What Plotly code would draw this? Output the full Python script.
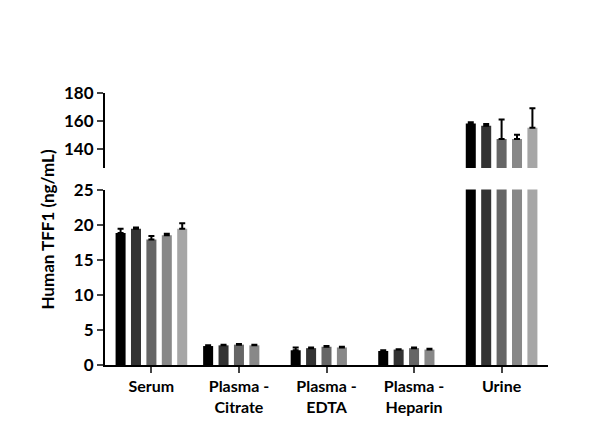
import plotly.graph_objects
import plotly.subplots

categories = ["Serum", "Plasma -<br>Citrate", "Plasma -<br>EDTA", "Plasma -<br>Heparin", "Urine"]
series_names = ["Undiluted", "2X Diluted", "4X Diluted", "8X Diluted", "16X Diluted"]
series_colors = ["#000000", "#333333", "#666666", "#888888", "#a6a6a6"]

# values per dilution, one entry per category
undiluted = [18.8, 2.7, 2.1, 2.0, 158.0]
diluted_2x = [19.4, 2.8, 2.4, 2.2, 156.5]
diluted_4x = [17.9, 2.9, 2.6, 2.4, 147.0]
diluted_8x = [18.5, 2.8, 2.5, 2.2, 147.0]
diluted_16x = [19.4, None, None, None, 155.0]

undiluted_err = [0.6, 0.1, 0.4, 0.1, 1.0]
diluted_2x_err = [0.2, 0.1, 0.1, 0.05, 1.2]
diluted_4x_err = [0.5, 0.1, 0.1, 0.1, 14.0]
diluted_8x_err = [0.2, 0.1, 0.1, 0.1, 3.0]
diluted_16x_err = [0.8, 0, 0, 0, 14.0]

values = [undiluted, diluted_2x, diluted_4x, diluted_8x, diluted_16x]
errors = [undiluted_err, diluted_2x_err, diluted_4x_err, diluted_8x_err, diluted_16x_err]

fig = plotly.subplots.make_subplots(rows=2, cols=1, shared_xaxes=True, vertical_spacing=0.0)

for name, color, vals, errs in zip(series_names, series_colors, values, errors):
    for row in (1, 2):
        fig.add_trace(plotly.graph_objects.Bar(
            x=categories,
            y=vals,
            name=name,
            marker=dict(color=color, line_width=0),
            error_y=dict(type="data", array=errs, arrayminus=[0] * len(errs), symmetric=False,
                         color="black", thickness=2, width=3),
            showlegend=(row == 1),
            legendgroup=name), row=row, col=1)

font_family = "Lato, DejaVu Sans, sans-serif"
bold_ticks = dict(size=17, family=font_family, weight="bold")
fig.update_layout(
    width=600, height=436,
    margin=dict(l=97, r=60, t=85, b=79, autoexpand=False),
    plot_bgcolor="white", paper_bgcolor="white",
    barmode="group", bargap=0.12, bargroupgap=0.35,
    font=dict(family=font_family, color="black", size=14),
    legend=dict(orientation="h", x=0.55, xanchor="center", y=1.29, yanchor="bottom",
                entrywidth=140, font=dict(size=14), itemwidth=40, traceorder="normal"),
)
fig.update_layout(
    yaxis=dict(domain=[0.724, 1.0], range=[126, 180], tickvals=[140, 160, 180],
               showline=True, linecolor="black", linewidth=2, ticks="outside", ticklen=6, tickwidth=2,
               showgrid=False, zeroline=False, tickfont=bold_ticks),
    yaxis2=dict(domain=[0.0, 0.645], range=[0, 25], tickvals=[0, 5, 10, 15, 20, 25],
                showline=True, linecolor="black", linewidth=2, ticks="outside", ticklen=6, tickwidth=2,
                showgrid=False, zeroline=False, tickfont=bold_ticks),
    xaxis=dict(visible=False, range=[-0.53, 4.53]),
    xaxis2=dict(range=[-0.53, 4.53], showline=True, linecolor="black", linewidth=2,
                ticks="outside", ticklen=6, tickwidth=2, showgrid=False,
                tickfont=dict(size=16, family=font_family, weight="bold")),
)
fig.add_annotation(text="<b>Human TFF1 (ng/mL)</b>", xref="paper", yref="paper", x=-0.16, y=0.5,
                   textangle=-90, showarrow=False, font=dict(size=17))

fig.write_html("out.html")
